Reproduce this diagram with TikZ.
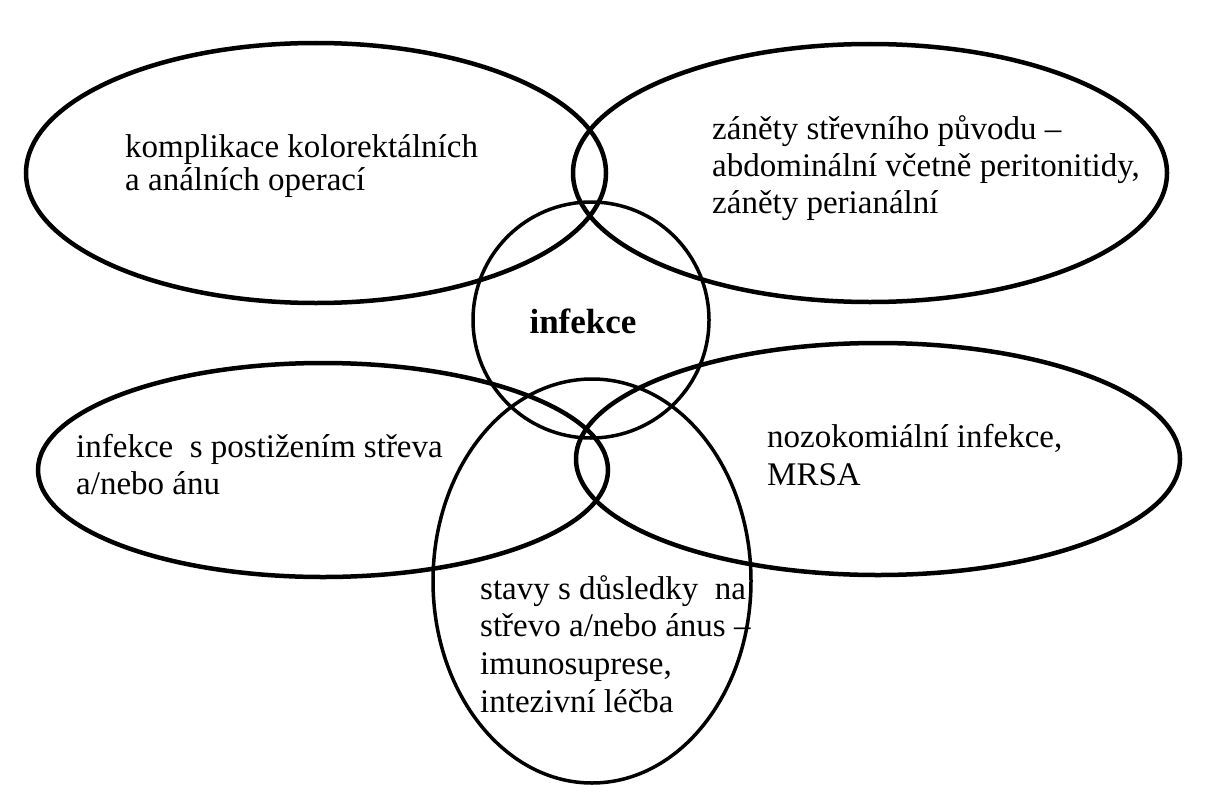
\documentclass[tikz,border=0pt]{standalone}
\usepackage{fontspec}
\setmainfont{Liberation Serif}
\begin{document}
\begin{tikzpicture}[x=1pt,y=-1pt,
  ring/.style={draw=black, line width=4.5pt},
  thinring/.style={draw=black, line width=3.5pt},
  lbl/.style={anchor=base west, inner sep=0pt, font=\fontsize{33}{37}\selectfont},
  core/.style={anchor=base, inner sep=0pt, font=\fontsize{35}{40}\selectfont\bfseries}]
\fill[white] (0,0) rectangle (1212,800);
\useasboundingbox (0,0) rectangle (1212,800);
% ellipses
\draw[ring] (316,173) ellipse [x radius=290pt, y radius=130pt];
\draw[ring] (870,173) ellipse [x radius=297pt, y radius=129pt];
\draw[thinring] (591,320) ellipse [x radius=118pt, y radius=118pt];
\draw[ring] (323,470) ellipse [x radius=285pt, y radius=107pt];
\draw[ring] (878,459) ellipse [x radius=302pt, y radius=116pt];
\draw[thinring] (592,581) ellipse [x radius=159pt, y radius=202pt];
% texts
\node[lbl] (tltext) at (125,157) {\vtop{\baselineskip=33pt\hbox{komplikace kolorektálních}\hbox{a análních operací}}};
\node[lbl] (trtext) at (712,139) {\vtop{\baselineskip=37pt\hbox{záněty střevního původu –}\hbox{abdominální včetně peritonitidy,}\hbox{záněty perianální}}};
\node[core] (center) at (583,333) {infekce};
\node[lbl] (bltext) at (76,457) {\vtop{\baselineskip=37pt\hbox{infekce~ s postižením střeva}\hbox{a/nebo ánu}}};
\node[lbl] (brtext) at (767,447) {\vtop{\baselineskip=38pt\hbox{nozokomiální infekce,}\hbox{MRSA}}};
\node[lbl] (bttext) at (480,599) {\vtop{\baselineskip=37.7pt\hbox{stavy s důsledky~ na}\hbox{střevo a/nebo ánus –}\hbox{imunosuprese,}\hbox{intezivní léčba}}};
\end{tikzpicture}
\end{document}
